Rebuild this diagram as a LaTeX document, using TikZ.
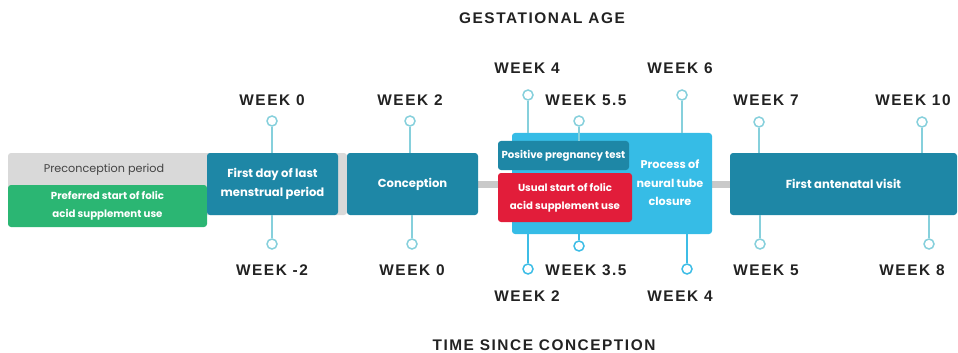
\documentclass[tikz,border=0pt]{standalone}
\usepackage{fontspec}
\setmainfont{Poppins}
\newfontfamily\weekfont[LetterSpace=10]{Liberation Sans}
\usetikzlibrary{positioning}

\definecolor{boxteal}{HTML}{1E87A6}
\definecolor{skyblue}{HTML}{36BCE6}
\definecolor{folicgreen}{HTML}{2BB673}
\definecolor{folicred}{HTML}{E21D3A}
\definecolor{bargray}{HTML}{C9C9C9}
\definecolor{pregray}{HTML}{D9D9D9}
\definecolor{pinteal}{HTML}{86D0DC}
\definecolor{pinblue}{HTML}{3DBDE6}
\definecolor{labeldark}{HTML}{222222}

\tikzset{
    box/.style={rectangle, rounded corners=1.5pt, inner sep=1pt, align=center,
        text=white, font=\fontsize{5.8}{9.4}\selectfont\bfseries},
    smallbox/.style={box, inner sep=0pt, font=\fontsize{5.1}{9}\selectfont\bfseries},
    week/.style={text=labeldark, inner sep=0pt, font=\fontsize{7.7}{9}\weekfont\bfseries},
    pin/.style={circle, draw=pinteal, fill=white, line width=0.75pt, minimum size=5pt, inner sep=0pt},
    pinb/.style={pin, draw=pinblue},
}

\begin{document}
\begin{tikzpicture}[
    x=0.5pt,
    y=-0.5pt,
]
    \useasboundingbox (0,0) rectangle (958,353);

    % timeline bar and preconception band
    \fill[bargray] (8,181) rectangle (950,188);
    \node[box, fill=pregray, minimum width=169.5pt, minimum height=31pt] (pre) at (177.5,184) {};
    \node[text=labeldark!85, inner sep=0pt, font=\fontsize{5.6}{8}\selectfont] (pretext) at (104,170) {Preconception period};

    % boxes
    \node[smallbox, fill=folicgreen, minimum width=99.5pt, minimum height=21pt] (pref) at (107.5,206) {Preferred start of folic\\acid supplement use};
    \node[box, fill=boxteal, minimum width=65.5pt, minimum height=31pt] (lmp) at (272.5,184) {First day of last\\menstrual period};
    \node[box, fill=boxteal, minimum width=65.5pt, minimum height=31pt] (conc) at (412.5,184) {Conception};
    \node[box, fill=skyblue, minimum width=100pt, minimum height=50.5pt] (ntc) at (612,183.5) {};
    \node[box, fill=skyblue, font=\fontsize{5.6}{9.2}\selectfont\bfseries] (ntctext) at (670,183) {Process of\\neural tube\\closure};
    \node[smallbox, fill=boxteal, minimum width=65.5pt, minimum height=14.5pt] (test) at (563.5,155.5) {Positive pregnancy test};
    \node[smallbox, fill=folicred, minimum width=67pt, minimum height=24.5pt] (usual) at (565,197.5) {Usual start of folic\\acid supplement use};
    \node[box, fill=boxteal, minimum width=113.5pt, minimum height=31pt] (anc) at (843.5,184) {First antenatal visit};

    % gestational age pins
    \node[pin] (ga0) at (272,121) {};
    \node[pin] (ga2) at (410,121) {};
    \node[pin] (ga4) at (528,95) {};
    \node[pin] (ga55) at (579,121) {};
    \node[pin] (ga6) at (682,95) {};
    \node[pin] (ga7) at (759,122) {};
    \node[pin] (ga10) at (922,122) {};

    % time since conception pins
    \node[pin] (tc0) at (272,244) {};
    \node[pin] (tc2) at (412,244) {};
    \node[pinb] (tc2b) at (528,269) {};
    \node[pinb] (tc35) at (579,246) {};
    \node[pinb] (tc4) at (687,269) {};
    \node[pin] (tc5) at (760,244) {};
    \node[pin] (tc8) at (929,244) {};

    \path[draw=pinteal, line width=0.75pt]
        (ga0) -- (ga0 |- lmp.north)
        (ga2) -- (ga2 |- conc.north)
        (ga4) -- (ga4 |- ntc.north)
        (ga55) -- (ga55 |- test.north)
        (ga6) -- (ga6 |- ntc.north)
        (ga7) -- (ga7 |- anc.north)
        (ga10) -- (ga10 |- anc.north)
        (tc0) -- (tc0 |- lmp.south)
        (tc2) -- (tc2 |- conc.south)
        (tc5) -- (tc5 |- anc.south)
        (tc8) -- (tc8 |- anc.south)
    ;
    \path[draw=pinblue, line width=0.75pt]
        (tc2b) -- (tc2b |- ntc.south)
        (tc35) -- (tc35 |- ntc.south)
        (tc4) -- (tc4 |- ntc.south)
    ;

    % labels
    \node[week] (gatitle) at (542,18) {GESTATIONAL AGE};
    \node[week] (tctitle) at (544,345) {TIME SINCE CONCEPTION};

    \node[week] (lga0) at (272,100) {WEEK 0};
    \node[week] (lga2) at (410,100) {WEEK 2};
    \node[week] (lga4) at (527,68) {WEEK 4};
    \node[week] (lga55) at (586,100) {WEEK 5.5};
    \node[week] (lga6) at (680,68) {WEEK 6};
    \node[week] (lga7) at (766,100) {WEEK 7};
    \node[week] (lga10) at (913,100) {WEEK 10};

    \node[week] (ltc0) at (272,270) {WEEK -2};
    \node[week] (ltc2) at (412,270) {WEEK 0};
    \node[week] (ltc2b) at (527,296) {WEEK 2};
    \node[week] (ltc35) at (586,270) {WEEK 3.5};
    \node[week] (ltc4) at (680,296) {WEEK 4};
    \node[week] (ltc5) at (766,270) {WEEK 5};
    \node[week] (ltc8) at (912,270) {WEEK 8};
\end{tikzpicture}
\end{document}
